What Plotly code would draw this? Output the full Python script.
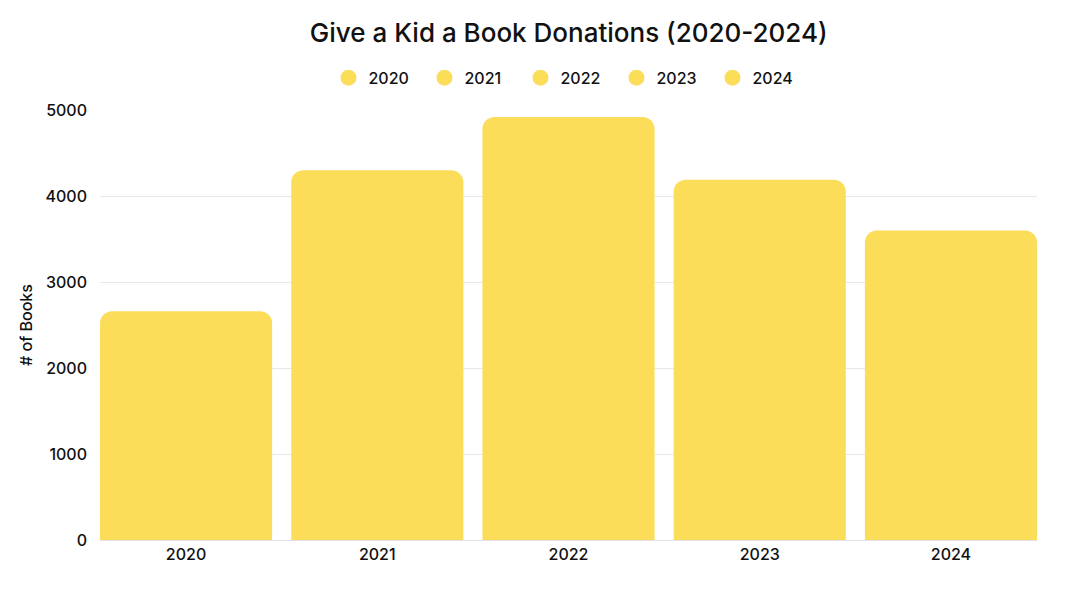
import plotly.graph_objects as go

# Donations per year
years = ["2020", "2021", "2022", "2023", "2024"]
books = [2660, 4300, 4920, 4190, 3600]

yticks = [0, 1000, 2000, 3000, 4000, 5000]

yellow = "#FCDD5A"
font_name = "Inter, Lato, sans-serif"

fig = go.Figure()

for year, value in zip(years, books):
    # the actual bar
    fig.add_trace(go.Bar(
        x=[year],
        y=[value],
        name=year,
        marker=dict(color=yellow, line=dict(width=0), cornerradius=12),
        showlegend=False,
        legendgroup=year,
    ))
    # round legend marker
    fig.add_trace(go.Scatter(
        x=[None],
        y=[None],
        mode="markers",
        name=year,
        marker=dict(color=yellow, size=17, symbol="circle"),
        legendgroup=year,
        showlegend=True,
    ))

# page body has an 8px margin, so the figure is a bit smaller than the window
fig.update_layout(
    width=1064,
    height=574,
    barmode="overlay",
    bargap=0.1,
    plot_bgcolor="white",
    paper_bgcolor="white",
    font=dict(family=font_name, size=15, color="#111111", weight=500),
    title=dict(
        text="Give a Kid a Book Donations (2020-2024)",
        x=0.527,
        xanchor="center",
        y=0.957,
        yanchor="middle",
        font=dict(size=26, color="#111111", family=font_name, weight=500),
    ),
    legend=dict(
        orientation="h",
        x=0.50,
        xanchor="center",
        y=1.075,
        yanchor="middle",
        font=dict(size=16, weight=500),
        itemwidth=30,
        entrywidth=51,
        tracegroupgap=0,
    ),
    margin=dict(l=92, r=35, t=102, b=42, autoexpand=False),
)

# y axis title placed by hand
fig.add_annotation(
    text="# of Books",
    xref="paper", yref="paper",
    x=-0.079, y=0.5,
    xanchor="center", yanchor="middle",
    textangle=-90,
    showarrow=False,
    font=dict(size=16, weight=500),
)

# outer bars sit flush with the plot edges
fig.update_xaxes(
    type="category",
    categoryorder="array",
    categoryarray=years,
    range=[-0.45, len(years) - 0.55],
    showgrid=False,
    showline=True,
    linecolor="#E3E3E3",
    linewidth=1,
    ticks="",
    tickfont=dict(size=16),
)

fig.update_yaxes(
    range=[0, 5000],
    tickvals=yticks,
    showgrid=True,
    gridcolor="#E8E8E8",
    gridwidth=1,
    zeroline=False,
    ticks="",
    ticklabelstandoff=12,
    tickfont=dict(size=16),
    automargin=False,
)

fig.write_html("out.html")
